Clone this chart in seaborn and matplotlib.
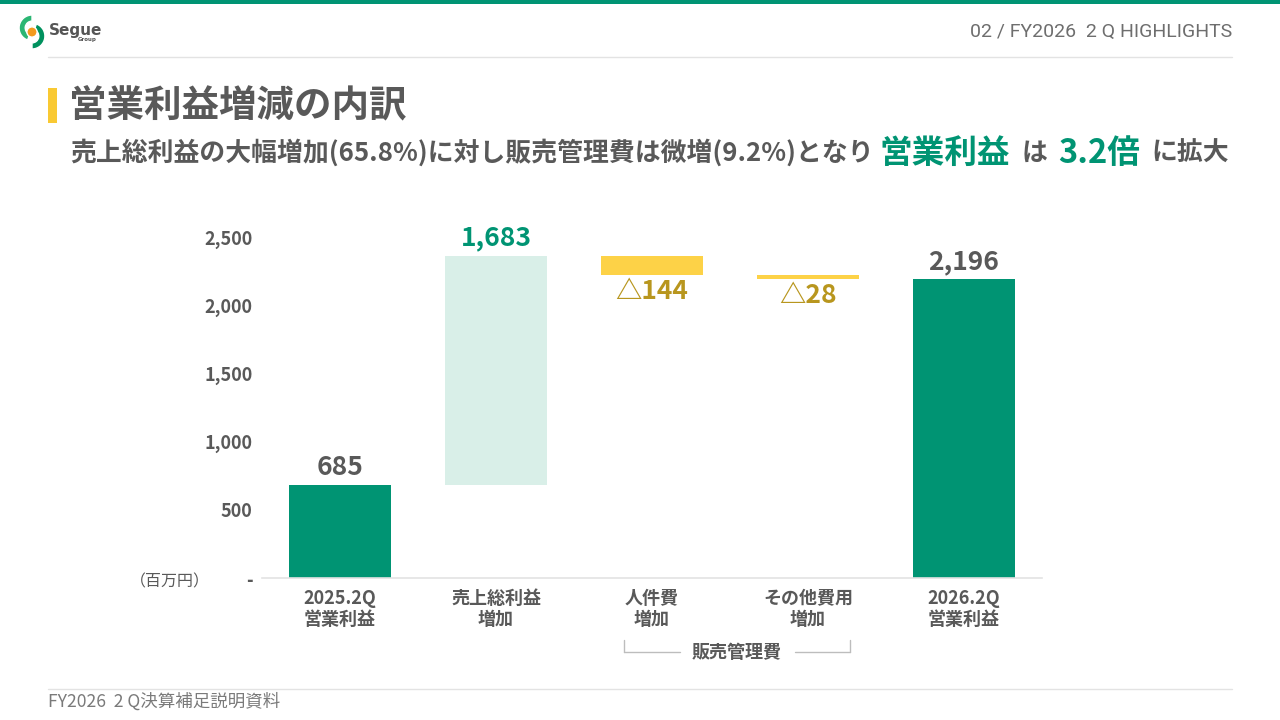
import matplotlib
matplotlib.use("Agg")
import matplotlib.pyplot as plt
import seaborn as sns
import numpy as np
import pandas as pd
from matplotlib.patches import Rectangle, Wedge, Circle
from matplotlib.lines import Line2D

# ---------------- data ----------------
categories = ["2025.2Q\n営業利益", "売上総利益\n増加", "人件費\n増加", "その他費用\n増加", "2026.2Q\n営業利益"]
values = [685, 1683, -144, -28, 2196]
value_labels = ["685", "1,683", "△144", "△28", "2,196"]
kinds = ["total", "up", "down", "down", "total"]
yticks = [0, 500, 1000, 1500, 2000, 2500]
ytick_labels = ["-", "500", "1,000", "1,500", "2,000", "2,500"]

GREEN = "#009473"
LIGHT_GREEN = "#d9efe8"
YELLOW = "#fdd247"
DARK_YELLOW = "#b8961e"
GREY = "#595959"
LIGHT_GREY = "#e3e3e3"

sns.set_theme(style="white")
plt.rcParams["font.family"] = ["Noto Sans CJK JP", "DejaVu Sans"]

# waterfall geometry derived from the values
bottoms, heights = [], []
running = 0
for v, k in zip(values, kinds):
    if k == "total":
        bottoms.append(0); heights.append(v); running = v
    else:
        if v >= 0:
            bottoms.append(running); heights.append(v)
        else:
            bottoms.append(running + v); heights.append(-v)
        running += v
tops = [b + h for b, h in zip(bottoms, heights)]
df = pd.DataFrame({"cat": categories, "height": heights, "bottom": bottoms})

W, H = 1280, 720
def fx(x): return x / W
def fy(y): return 1 - y / H

fig = plt.figure(figsize=(12.8, 7.2), dpi=100)
fig.patch.set_facecolor("white")

ax = fig.add_axes([fx(262), fy(578), 780 / W, (578 - 224) / H])
sns.barplot(data=df, x="cat", y="height", bottom=df["bottom"].values,
            width=0.66, errorbar=None, ax=ax, color=GREEN)

bar_colors = {"total": GREEN, "up": LIGHT_GREEN, "down": YELLOW}
label_colors = {"total": GREY, "up": GREEN, "down": DARK_YELLOW}
for p, k in zip(ax.patches, kinds):
    p.set_facecolor(bar_colors[k])
    p.set_edgecolor("none")

for i, (k, lab) in enumerate(zip(kinds, value_labels)):
    if k == "down":
        ax.annotate(lab, (i, bottoms[i]), xytext=(0, -2), textcoords="offset points",
                    ha="center", va="top", fontsize=19, fontweight="bold",
                    color=label_colors[k])
    else:
        ax.annotate(lab, (i, tops[i]), xytext=(0, 3), textcoords="offset points",
                    ha="center", va="bottom", fontsize=19, fontweight="bold",
                    color=label_colors[k])

ax.set_xlim(-0.5, 4.5)
ax.set_ylim(0, 2600)
ax.set_yticks(yticks, ytick_labels)
ax.set_xlabel("")
ax.set_ylabel("")
for s in ["top", "right", "left"]:
    ax.spines[s].set_visible(False)
ax.spines["bottom"].set_color(LIGHT_GREY)
ax.spines["bottom"].set_linewidth(1.2)
ax.tick_params(axis="both", length=0)
ax.tick_params(axis="y", pad=7)
ax.tick_params(axis="x", pad=8)
for t in ax.get_yticklabels():
    t.set_fontsize(13); t.set_fontweight("bold"); t.set_color(GREY)
for t in ax.get_xticklabels():
    t.set_fontsize(13); t.set_fontweight("bold"); t.set_color(GREY)
    t.set_linespacing(1.15)

fig.text(fx(170), fy(582), "（百万円）", fontsize=11.5, color=GREY, ha="center", va="center")

# bracket for 販売管理費
line_kw = dict(color="#bdbdbd", linewidth=1.0, transform=fig.transFigure)
fig.add_artist(Line2D([fx(624), fx(624)], [fy(640), fy(652)], **line_kw))
fig.add_artist(Line2D([fx(624), fx(680)], [fy(652), fy(652)], **line_kw))
fig.add_artist(Line2D([fx(850), fx(850)], [fy(640), fy(652)], **line_kw))
fig.add_artist(Line2D([fx(795), fx(850)], [fy(652), fy(652)], **line_kw))
fig.text(fx(737), fy(653), "販売管理費", fontsize=13, fontweight="bold", color=GREY,
         ha="center", va="center")

# ---------------- page decoration ----------------
fig.add_artist(Rectangle((0, fy(4)), 1, 4 / H, transform=fig.transFigure,
                         facecolor=GREEN, edgecolor="none"))
fig.add_artist(Line2D([fx(48), fx(1232)], [fy(57), fy(57)], color=LIGHT_GREY,
                      linewidth=1.0, transform=fig.transFigure))
fig.add_artist(Line2D([fx(48), fx(1232)], [fy(689), fy(689)], color=LIGHT_GREY,
                      linewidth=1.0, transform=fig.transFigure))
fig.text(fx(1232), fy(32), "02 / FY2026  2 Q HIGHLIGHTS", fontsize=14, color="#6e6e6e",
         ha="right", va="center", fontweight="normal", family=["Roboto", "DejaVu Sans"])
fig.text(fx(48), fy(702), "FY2026  2 Q決算補足説明資料", fontsize=12.6, color="#7a7a7a",
         ha="left", va="center")

# logo (approximation)
lax = fig.add_axes([fx(15), fy(49), 34 / W, 34 / H])
lax.set_xlim(0, 1); lax.set_ylim(0, 1); lax.set_aspect("equal"); lax.axis("off")
lax.add_patch(Wedge((0.5, 0.62), 0.38, 90, 250, width=0.18, facecolor="#2bb673"))
lax.add_patch(Wedge((0.5, 0.38), 0.38, 270, 70, width=0.18, facecolor="#00915e"))
lax.add_patch(Circle((0.5, 0.5), 0.15, facecolor="#f39a1e"))
fig.text(fx(49), fy(30), "Segue", fontsize=11, fontweight="heavy", color="#555555",
         ha="left", va="center", family=["DejaVu Sans"])
fig.text(fx(97), fy(40), "Group", fontsize=4, fontweight="bold", color="#555555",
         ha="right", va="center", family=["DejaVu Sans"])

# title
fig.add_artist(Rectangle((fx(48), fy(123)), 9 / W, 35 / H, transform=fig.transFigure,
                         facecolor="#f9c933", edgecolor="none"))
fig.text(fx(69), fy(105), "営業利益増減の内訳", fontsize=27, fontweight="bold",
         color=GREY, ha="left", va="center")

# subtitle (chained segments)
renderer = fig.canvas.get_renderer()
segments = [
    ("売上総利益の大幅増加(65.8%)に対し販売管理費は微増(9.2%)となり", 18.6, GREY, 6),
    ("営業利益", 23.5, GREEN, 11),
    ("は", 18.6, GREY, 11),
    ("3.2倍", 23.5, GREEN, 11),
    ("に拡大", 18.6, GREY, 0),
]
x = 70
for s, size, color, gap in segments:
    t = fig.text(fx(x), fy(153), s, fontsize=size, fontweight="bold", color=color,
                 ha="left", va="center")
    bb = t.get_window_extent(renderer)
    x += bb.width + gap

fig.savefig("out.png", dpi=100, facecolor="white")
